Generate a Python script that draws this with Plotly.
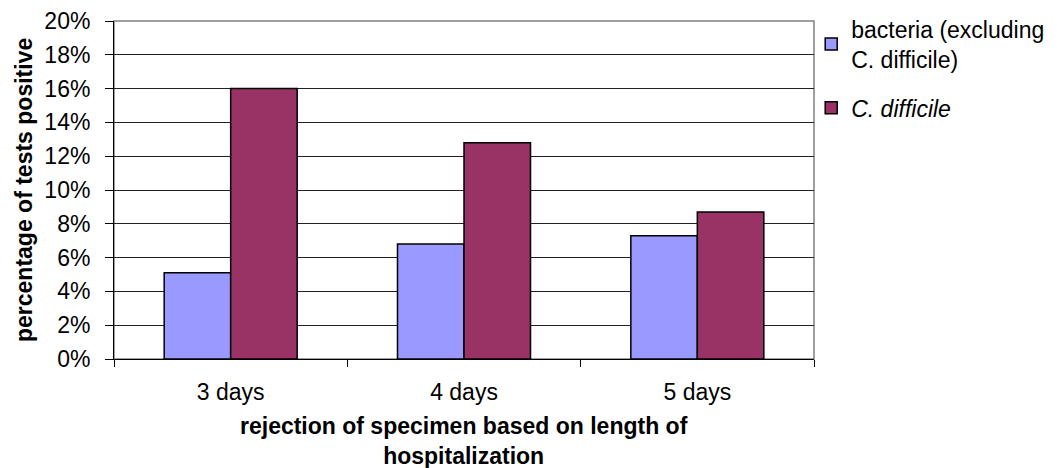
import plotly.graph_objects as go

categories = ["3 days", "4 days", "5 days"]
bacteria = [0.051, 0.068, 0.073]
cdiff = [0.160, 0.128, 0.087]
series_names = ["bacteria (excluding<br>C. difficile)", "<i>C. difficile</i>"]
y_ticks = [0, 0.02, 0.04, 0.06, 0.08, 0.10, 0.12, 0.14, 0.16, 0.18, 0.20]

FONT = "Liberation Sans, Arial, sans-serif"

fig = go.Figure()
fig.add_trace(go.Bar(x=categories, y=bacteria, name=series_names[0], legendgroup="a",
                     marker=dict(color="#9999FF", line=dict(color="#000000", width=1.5))))
fig.add_trace(go.Bar(x=categories, y=cdiff, name=series_names[1], legendgroup="b",
                     marker=dict(color="#993366", line=dict(color="#000000", width=1.5))))

fig.update_layout(
    width=1057, height=468,
    margin=dict(l=114, r=243, t=21, b=109, autoexpand=False),
    paper_bgcolor="white", plot_bgcolor="white",
    font=dict(family=FONT, color="black", size=23),
    barmode="group", bargap=0.43, bargroupgap=0,
    showlegend=True,
    legend=dict(x=0.996, y=1.04, xanchor="left", yanchor="top",
                font=dict(size=23, family=FONT, color="black"),
                bgcolor="rgba(0,0,0,0)", tracegroupgap=16),
    xaxis=dict(
        type="category", showline=True, linecolor="black", linewidth=1,
        ticks="outside", ticklen=7, tickcolor="black", tickson="boundaries",
        tickfont=dict(size=23), ticklabelstandoff=12, showgrid=False,
    ),
    yaxis=dict(
        range=[0, 0.2], tickvals=y_ticks, tickformat=".0%",
        showline=True, linecolor="black", linewidth=1,
        ticks="outside", ticklen=8, tickcolor="black",
        tickfont=dict(size=23), ticklabelstandoff=10,
        showgrid=True, gridcolor="#222222", gridwidth=1, zeroline=False,
    ),
    shapes=[dict(type="rect", xref="paper", yref="paper", x0=0, x1=1, y0=0, y1=1,
                 line=dict(color="#808080", width=1.5), layer="below")],
    annotations=[
        dict(text="<b>percentage of tests positive</b>", xref="paper", yref="paper",
             x=0, y=0.5, xshift=-90, textangle=-90, showarrow=False,
             font=dict(size=23, family=FONT, color="black"), xanchor="center", yanchor="middle"),
        dict(text="<b>rejection of specimen based on length of<br>hospitalization</b>",
             xref="paper", yref="paper", x=0.5, y=0, yshift=-52, showarrow=False,
             font=dict(size=23, family=FONT, color="black"), xanchor="center", yanchor="top"),
    ],
)

fig.write_html("out.html")
